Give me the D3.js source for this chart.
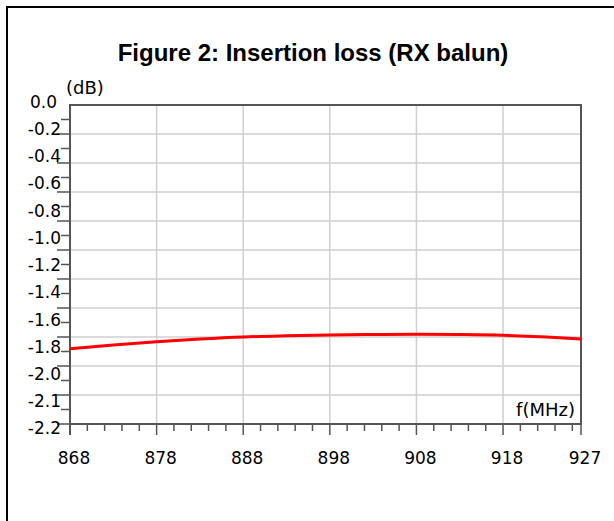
<!DOCTYPE html>
<html><head><meta charset="utf-8">
<script src="https://cdn.jsdelivr.net/npm/d3@7"></script>
<style>html,body{margin:0;padding:0;background:#fff;overflow:hidden}svg{display:block}</style>
</head><body>
<script>
const title = "Figure 2: Insertion loss (RX balun)";
const freqMHz = [868, 873, 878, 883, 888, 893, 898, 903, 908, 913, 918, 923, 927];
const lossDb = [-1.681, -1.655, -1.632, -1.614, -1.600, -1.592, -1.586, -1.583, -1.581, -1.583, -1.588, -1.600, -1.614];
const xTickLabels = [868, 878, 888, 898, 908, 918, 927];
const yTickLabels = ["0.0", "-0.2", "-0.4", "-0.6", "-0.8", "-1.0", "-1.2", "-1.4", "-1.6", "-1.8", "-2.0", "-2.1", "-2.2"];
const yGridValues = d3.range(0, 12).map(i => -0.2 * i);
const yMinorValues = d3.range(0, 11).map(i => -0.2 * i - 0.1);
const xGridValues = [878, 888, 898, 908, 918];
const xMinorValues = d3.range(870, 927, 2);

const W = 614, H = 521;
const svg = d3.select("body").append("svg").attr("width", W).attr("height", H);

// outer frame (only top/left edges fall inside the picture)
svg.append("line").attr("x1", 7).attr("x2", W).attr("y1", 7).attr("y2", 7).attr("stroke", "#000").attr("stroke-width", 2);
svg.append("line").attr("x1", 7).attr("x2", 7).attr("y1", 6).attr("y2", H).attr("stroke", "#000").attr("stroke-width", 2);

svg.append("text").attr("x", 313).attr("y", 61).attr("text-anchor", "middle")
  .attr("font-family", "Liberation Sans, Arial, sans-serif").attr("font-weight", "bold")
  .attr("font-size", 24).attr("fill", "#000").text(title);

const x = d3.scaleLinear().domain([868, 927]).range([70, 581]);
const y = d3.scaleLinear().domain([0, -2.2]).range([105, 424]);
const yLab = d3.scalePoint().domain(yTickLabels).range([101.7, 428.3]);

const g = svg.append("g");
g.selectAll("line.hg").data(yGridValues.slice(1)).join("line")
  .attr("x1", 70).attr("x2", 581).attr("y1", d => y(d)).attr("y2", d => y(d))
  .attr("stroke", "#cfcfcf").attr("stroke-width", 1.5);
g.selectAll("line.vg").data(xGridValues).join("line")
  .attr("x1", d => x(d)).attr("x2", d => x(d)).attr("y1", 105).attr("y2", 424)
  .attr("stroke", "#cfcfcf").attr("stroke-width", 1.5);

const axisCol = "#555";
g.selectAll("line.ytM").data(yGridValues.slice(1)).join("line")
  .attr("x1", 57).attr("x2", 70).attr("y1", d => y(d)).attr("y2", d => y(d))
  .attr("stroke", axisCol).attr("stroke-width", 1.5);
g.selectAll("line.ytm").data(yMinorValues).join("line")
  .attr("x1", 61).attr("x2", 70).attr("y1", d => y(d)).attr("y2", d => y(d))
  .attr("stroke", axisCol).attr("stroke-width", 1.5);
g.selectAll("line.xtM").data([868].concat(xGridValues, [927])).join("line")
  .attr("x1", d => x(d)).attr("x2", d => x(d)).attr("y1", 424).attr("y2", 435)
  .attr("stroke", axisCol).attr("stroke-width", 1.5);
g.selectAll("line.xtm").data(xMinorValues.filter(v => (v - 868) % 10 !== 0)).join("line")
  .attr("x1", d => x(d)).attr("x2", d => x(d)).attr("y1", 424).attr("y2", 431)
  .attr("stroke", axisCol).attr("stroke-width", 1.5);

g.append("line").attr("x1", 69).attr("x2", 582).attr("y1", 105).attr("y2", 105).attr("stroke", axisCol).attr("stroke-width", 2);
g.append("line").attr("x1", 581).attr("x2", 581).attr("y1", 105).attr("y2", 425).attr("stroke", axisCol).attr("stroke-width", 2);
g.append("line").attr("x1", 70).attr("x2", 70).attr("y1", 104).attr("y2", 435).attr("stroke", axisCol).attr("stroke-width", 2);
g.append("line").attr("x1", 69).attr("x2", 582).attr("y1", 424).attr("y2", 424).attr("stroke", axisCol).attr("stroke-width", 2);

const font = "DejaVu Sans, Verdana, sans-serif";
g.selectAll("text.yl").data(yTickLabels).join("text")
  .attr("x", (d, i) => i === 0 ? 57 : 61).attr("y", d => yLab(d)).attr("dy", "0.36em")
  .attr("text-anchor", "end").attr("font-family", font).attr("font-size", 17).attr("fill", "#000")
  .text(d => d);
g.selectAll("text.xl").data(xTickLabels).join("text")
  .attr("x", d => x(d) + 4).attr("y", 458).attr("dy", "0.36em")
  .attr("text-anchor", "middle").attr("font-family", font).attr("font-size", 17).attr("fill", "#000")
  .text(d => d);

g.append("text").attr("x", 66).attr("y", 88).attr("dy", "0.36em").attr("font-family", font)
  .attr("font-size", 18).attr("fill", "#000").text("(dB)");
g.append("text").attr("x", 575).attr("y", 410).attr("dy", "0.36em").attr("text-anchor", "end")
  .attr("font-family", font).attr("font-size", 18).attr("fill", "#000").text("f(MHz)");

const line = d3.line().x((d, i) => x(freqMHz[i])).y(d => y(d)).curve(d3.curveMonotoneX);
g.append("path").datum(lossDb).attr("d", line).attr("fill", "none")
  .attr("stroke", "#ff0000").attr("stroke-width", 3);
</script>
</body></html>
